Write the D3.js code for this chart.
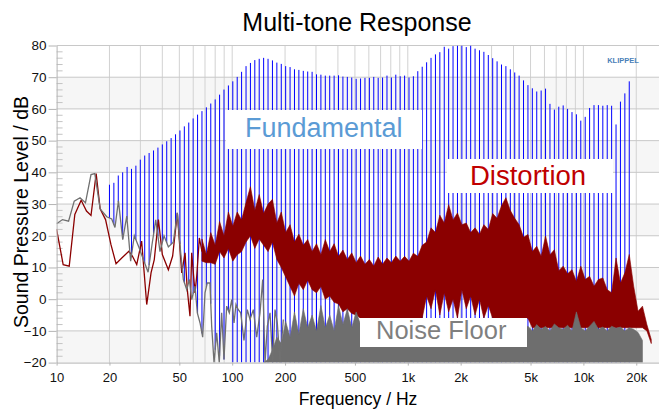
<!DOCTYPE html>
<html>
<head>
<meta charset="utf-8">
<script src="https://cdn.jsdelivr.net/npm/d3@7"></script>
<style>
  body { margin: 0; background: #fff; }
  svg { display: block; }
  text { font-family: "Liberation Sans", Arial, sans-serif; }
</style>
</head>
<body>
<div id="chart"></div>
<script>
// 1/12-octave grid of the multi-tone excitation (Hz), 20 Hz .. 24 kHz
const freqs = [20.0, 21.19, 22.45, 23.78, 25.20, 26.70, 28.28, 29.97, 31.75, 33.64, 35.64, 37.76,
  40.00, 42.38, 44.90, 47.57, 50.40, 53.39, 56.57, 59.93, 63.50, 67.27, 71.27, 75.51,
  80.00, 84.76, 89.80, 95.14, 100.8, 106.8, 113.1, 119.9, 127.0, 134.5, 142.5, 151.0,
  160.0, 169.5, 179.6, 190.3, 201.6, 213.6, 226.3, 239.7, 254.0, 269.1, 285.1, 302.1,
  320.0, 339.0, 359.2, 380.6, 403.2, 427.1, 452.5, 479.5, 508.0, 538.2, 570.2, 604.1,
  640.0, 678.1, 718.4, 761.1, 806.3, 854.3, 905.1, 958.9, 1016, 1076, 1140, 1208,
  1280, 1356, 1437, 1522, 1613, 1709, 1810, 1918, 2032, 2153, 2281, 2416,
  2560, 2712, 2874, 3044, 3225, 3417, 3620, 3836, 4064, 4305, 4561, 4833,
  5120, 5424, 5747, 6089, 6451, 6834, 7241, 7671, 8127, 8611, 9123, 9665,
  10240, 10849, 11494, 12177, 12902, 13669, 14482, 15343, 16255, 17222, 18246, 19331,
  20480, 21698, 22988, 24355];

// fundamental level of each tone (dB), tones 0..118
const fundamental = [36.1, 36.7, 39, 40, 41.7, 41.1, 42.1, 44, 45.3, 46.1, 46.9, 47.8,
  48.8, 49.8, 50.8, 52, 53.2, 54.5, 55.7, 57, 58.2,
  59.3, 60.5, 61.7, 63.0, 64.5, 66.1, 67.4, 68.7, 70.1, 71.7, 73.5, 74.5, 75.4, 75.8, 76.1,
  75.8, 75.3, 74.6, 74.2, 73.5, 73.2, 72.5, 72.3, 72.0, 71.8, 71.7, 70.9, 70.8, 70.5, 70.5,
  70.5, 70.6, 70.2, 70.1, 69.9, 69.5, 69.6, 69.8, 69.8, 70.1, 69.8, 69.9, 70.5, 69.9, 70.8,
  70.3, 70.5, 69.9, 70.3, 71.9, 73.3, 74.7, 76.1, 77.2, 77.9, 79.6, 79.0,
  79.8, 80, 80, 79.5, 80, 79, 78.5, 78, 77, 76, 75, 74, 73.5, 72.5, 71.5, 70.5, 69, 67.5, 66.5, 65.5,
  65.8, 66.4, 61.6, 59.8, 60.7, 61.1, 60.0, 59.0, 58.3, 56.3, 57.5, 60.3, 61.2, 61.2, 61.0,
  61.2, 61.0, 55.1, 62.3, 64.9, 68.7];

// distortion, low frequency part (single trace)
const distLowFreq = [10.0, 10.9, 11.8, 12.7, 13.8, 14.8, 15.7, 16.8, 17.7, 19.0, 20.4, 21.8,
  23.5, 25.8, 27.0, 28.6, 30.5, 32.6, 34.5, 36.0, 38.0, 40.0, 43.3, 45.8, 48.7, 51.6, 53.9,
  55.5, 57.5, 58.8, 61.4, 62.8, 65.0, 67.3];
const distLowDb = [22.0, 10.9, 10.4, 26.7, 31.2, 27.8, 26.4, 39.6, 28.5, 25.1, 17.2, 11.2,
  13.0, 15.1, 13.6, 10.9, 18.3, -1.7, 8.3, 12.5, 25.1, 14.1, 9.3, 13.6, 27.2, 8.3, 14.6,
  3.0, -5.4, 14.6, 2.0, 7.2, 19.3, 15];

// distortion, dense part: upper / lower edge on freqs[21..123]
const distHi = [19, 14, 21, 17, 24.5, 20, 27.5, 23, 27.5, 25,
  30.5, 35.5, 28, 33, 27, 30, 31.5, 24, 27.5, 21,
  23.5, 18, 20.5, 17, 18.8, 15, 17.5, 14, 18.8, 15,
  17.5, 13.5, 15.5, 12.5, 14.6, 11.5, 13.6, 11, 12.5, 10.5,
  13.3, 11, 13, 11.5, 13.6, 12, 13.5, 12, 14.5, 13.5,
  17, 18, 22.5, 21, 26.5, 24, 29.8, 25, 27.2, 23.5,
  24, 21, 22.5, 20.5, 23.5, 22, 27, 25.5, 29.5, 32,
  28, 25.5, 23.5, 19.5, 20.4, 15, 16.7, 13.5, 19.9, 14,
  15.6, 9, 10.4, 8, 9.3, 5.6, 10.4, 6.2, 7.2, 4.1,
  6.2, 6.7, 3, 2, 13, 5, 8.3, 14.1, 4.1, -3.8,
  -2.2, -8, -12.7];
const distLo = [12, 11.5, 11.5, 11, 15, 13, 16, 12, 14, 15,
  18, 20, 16, 19, 17, 15, 18, 12.5, 10, 7,
  4, 1, 5, 3, 6, 3, 2, 4, 0, 1,
  -1, -1.5, -4, -3, -4.5, -5,
  -6, -6, -6, -6, -6, -6, -6, -6, -6, -6, -6, -6, -6, -6, -6,
  1, -3, 3, -5, 2, -4, 0, -6, 3, -3, 1, -5, 0, -6, -2,
  -6, -6, -6, -6, -6, -6, -6, -6, -6,
  -9, -9, -9, -9, -9, -9, -9, -9, -9, -9, -9, -9, -9, -9,
  -9, -9, -9, -9, -9, -9, -9, -9, -9, -9, -9, -9, -10, -14];

// noise floor, low frequency part (single trace)
const noiseLowFreq = [10.0, 10.8, 11.7, 12.6, 13.6, 14.6, 15.7, 16.5, 17.7, 19.3,
  20.6, 21.5, 22.5, 23.8, 25.1, 26.4, 27.7, 29.5, 31.2, 33.2,
  34.9, 36.7, 38.8, 40.9, 43.3, 46.2, 48.7, 50.9, 52.7, 55.1,
  57.0, 58.8, 61.4, 63.3, 65.6, 67.9, 70.0, 72.1, 74.7, 76.4,
  78.8, 81.6, 84.4, 87.1, 89.8, 93.0, 96.3, 99.4, 102.4, 105.1,
  108.3, 111.8, 116.7, 121.9, 126.3, 131.9, 137.9, 144.0, 149.2, 153.8,
  158.5, 164.2, 170.1, 175.3, 180.7, 187.2, 195.5];
const noiseLowDb = [23.8, 25.1, 24.6, 30.9, 32.0, 30.4, 39.3, 39.6, 28.5, 26.0,
  25.3, 22.6, 31.0, 18.8, 26.2, 12.0, 20.0, 16.2, 12.5, 8.5,
  17, 25, 15, 20, 16.5, 18, 27.2, 14.6, 6.2, 3.0,
  6.2, -0.1, 4.1, -4.3, -7.5, -12, 2.0, 5.1, 5.1, -8.5,
  -20, -10.6, -20, -4.3, -19, -2.2, -4.3, -0.1, -7.5, -1.7,
  -3.3, -4.3, -13, -3.3, -6.4, -3.3, -12, -4.3, 6.2, -20,
  -8.5, -4.3, -20, -3.3, -7.5, -20, -6.4];

// noise floor, dense part: top edge on freqs[35..123]
const noiseTop = [-20, -19, -16, -12, -14, -7, -12, -4, -11, -3, -9, -5, -10, -2, -9, -5, -10, -2, -8, -3, -9, -4,
  -8, -8, -8, -8, -8, -8, -8, -8, -8, -8, -8, -8, -8, -8, -8, -8, -8, -8, -8, -8,
  -8, -8, -8, -8, -8, -8, -8, -8, -8, -8, -8, -8, -8, -8, -8, -8, -8,
  -9, -8.5, -10, -8, -9.5, -8.6, -10, -7.8, -9, -9.5, -8.2, -10, -4, -9,
  -10, -8.5, -7, -9.5, -8.8, -10, -8.5, -9.2, -8.8, -10, -9, -9.5, -10.5, -13];

const xTicks = [10, 20, 50, 100, 200, 500, 1000, 2000, 5000, 10000, 20000];

const w = 659, h = 412;
const svg = d3.select("#chart").append("svg").attr("width", w).attr("height", h);

const xScale = d3.scaleLog().domain([10, 26950]).range([56.6, 659]);
const yScale = d3.scaleLinear().domain([-20, 80]).range([362.6, 45.5]);
const x0 = xScale(10), yBot = yScale(-20), yTop = yScale(80);

// background bands
svg.append("g").selectAll("rect")
   .data(d3.range(-20, 80, 10))
   .join("rect")
   .attr("x", x0).attr("width", w - x0)
   .attr("y", d => yScale(d + 10))
   .attr("height", d => yScale(d) - yScale(d + 10))
   .attr("fill", (d, i) => i % 2 === 0 ? "#f6f6f6" : "#ffffff");

// grid
const vGrid = [];
[10, 100, 1000, 10000].forEach(dec => {
  for (let m = 1; m < 10; m++) if (dec * m > 10 && dec * m < 26950) vGrid.push(dec * m);
});
svg.append("g").selectAll("line")
   .data(vGrid)
   .join("line")
   .attr("x1", d => xScale(d)).attr("x2", d => xScale(d))
   .attr("y1", yTop).attr("y2", yBot)
   .attr("stroke", "#d2d2d2").attr("stroke-width", 1);
svg.append("g").selectAll("line")
   .data(d3.range(-10, 81, 10))
   .join("line")
   .attr("x1", x0).attr("x2", w)
   .attr("y1", d => yScale(d)).attr("y2", d => yScale(d))
   .attr("stroke", "#c8c8c8").attr("stroke-width", 1);
// minor ticks inside the left edge
svg.append("g").selectAll("line")
   .data(d3.range(-18, 80, 2).filter(d => d % 10 !== 0))
   .join("line")
   .attr("x1", x0).attr("x2", x0 + 6)
   .attr("y1", d => yScale(d)).attr("y2", d => yScale(d))
   .attr("stroke", "#c4c4c4");

svg.append("clipPath").attr("id", "plotclip")
   .append("rect").attr("x", x0).attr("y", yTop).attr("width", w - x0).attr("height", yBot - yTop);
const plot = svg.append("g").attr("clip-path", "url(#plotclip)");

// fundamental tones (spectral lines from noise floor up to tone level)
const floorAt = d3.scaleLog().domain(noiseLowFreq).range(noiseLowDb).clamp(true);
plot.append("g").selectAll("line")
    .data(fundamental)
    .join("line")
    .attr("x1", (d, i) => xScale(freqs[i]))
    .attr("x2", (d, i) => xScale(freqs[i]))
    .attr("y1", (d, i) => yScale(freqs[i] < 100 ? floorAt(freqs[i]) : -20))
    .attr("y2", d => yScale(d))
    .attr("stroke", "#0000ff")
    .attr("stroke-width", 1);

// distortion
const red = "#8b0000";
const distBand = distHi.map((d, i) => ({ f: freqs[21 + i], hi: d, lo: distLo[i] }));
plot.append("path")
    .datum(distBand)
    .attr("d", d3.area().x(d => xScale(d.f)).y0(d => yScale(d.lo)).y1(d => yScale(d.hi)))
    .attr("fill", red).attr("stroke", red).attr("stroke-width", 0.6);
plot.append("path")
    .datum(distLowFreq.map((f, i) => [f, distLowDb[i]]))
    .attr("d", d3.line().x(d => xScale(d[0])).y(d => yScale(d[1])))
    .attr("fill", "none").attr("stroke", red).attr("stroke-width", 1.3);

// noise floor
const grey = "#6e6e6e";
const noiseBand = noiseTop.map((d, i) => ({ f: freqs[35 + i], top: d }));
plot.append("path")
    .datum(noiseBand)
    .attr("d", d3.area().x(d => xScale(d.f)).y0(yBot).y1(d => yScale(d.top)))
    .attr("fill", grey).attr("stroke", grey).attr("stroke-width", 0.6);
plot.append("path")
    .datum(noiseLowFreq.map((f, i) => [f, noiseLowDb[i]]))
    .attr("d", d3.line().x(d => xScale(d[0])).y(d => yScale(d[1])))
    .attr("fill", "none").attr("stroke", "#707070").attr("stroke-width", 1.3);

// labels on white boxes
const notes = [
  { text: "Fundamental", x: 226, y: 110, w: 196, h: 39, tx: 245, ty: 137, size: 27, color: "#5b9bd5" },
  { text: "Distortion", x: 447, y: 159, w: 166, h: 34, tx: 470, ty: 185, size: 27.5, color: "#c00000" },
  { text: "Noise Floor", x: 360, y: 318, w: 167, h: 29, tx: 376, ty: 339, size: 25.5, color: "#7f7f7f" }
];
const noteG = svg.append("g").selectAll("g").data(notes).join("g");
noteG.append("rect")
     .attr("x", d => d.x).attr("y", d => d.y).attr("width", d => d.w).attr("height", d => d.h)
     .attr("fill", "#fff");
noteG.append("text")
     .attr("x", d => d.tx).attr("y", d => d.ty)
     .attr("font-family", "Lato, 'Open Sans', sans-serif")
     .attr("font-size", d => d.size)
     .attr("fill", d => d.color)
     .text(d => d.text);

// axes
const xAxis = d3.axisBottom(xScale)
                .tickValues(xTicks)
                .tickFormat(d => d >= 1000 ? (d / 1000) + "k" : d)
                .tickSize(3).tickSizeOuter(0).tickPadding(7);
svg.append("g")
   .attr("transform", "translate(0," + yBot + ")")
   .call(xAxis)
   .call(g => g.select(".domain").attr("stroke", "#b4b4b4"))
   .call(g => g.selectAll(".tick line").attr("stroke", "#b4b4b4"))
   .call(g => g.selectAll(".tick text").attr("fill", "#111"))
   .attr("font-family", "'Liberation Sans', Arial, sans-serif")
   .attr("font-size", 13);

const yAxis = d3.axisLeft(yScale)
                .tickValues(d3.range(-20, 81, 10))
                .tickSize(8).tickSizeOuter(0).tickPadding(2);
svg.append("g")
   .attr("transform", "translate(" + x0 + ",0)")
   .call(yAxis)
   .call(g => g.select(".domain").attr("stroke", "#b4b4b4"))
   .call(g => g.selectAll(".tick line").attr("stroke", "#b4b4b4"))
   .call(g => g.selectAll(".tick text").attr("fill", "#111"))
   .attr("font-family", "'Liberation Sans', Arial, sans-serif")
   .attr("font-size", 13.5);

// titles
svg.append("text")
   .attr("x", 357).attr("y", 31)
   .style("text-anchor", "middle")
   .attr("font-size", 25)
   .text("Multi-tone Response");

svg.append("text")
   .attr("transform", "translate(28,212) rotate(-90)")
   .style("text-anchor", "middle")
   .attr("font-size", 19.5)
   .text("Sound Pressure Level / dB");

svg.append("text")
   .attr("x", 358).attr("y", 405)
   .style("text-anchor", "middle")
   .attr("font-size", 17.5)
   .text("Frequency / Hz");

svg.append("text")
   .attr("x", 623).attr("y", 63)
   .style("text-anchor", "middle")
   .attr("font-size", 7.5)
   .attr("font-weight", "bold")
   .attr("fill", "#4a80b8")
   .text("KLIPPEL");
</script>
</body>
</html>
